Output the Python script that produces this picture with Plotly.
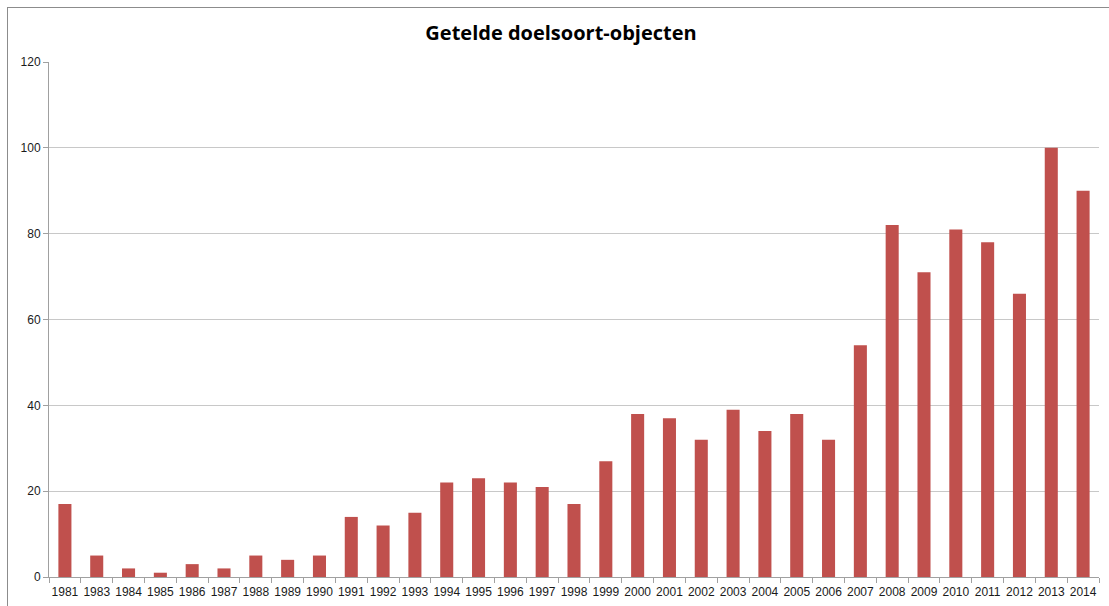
import plotly.graph_objects as go

years = ["1981", "1983", "1984", "1985", "1986", "1987", "1988", "1989", "1990",
         "1991", "1992", "1993", "1994", "1995", "1996", "1997", "1998", "1999",
         "2000", "2001", "2002", "2003", "2004", "2005", "2006", "2007", "2008",
         "2009", "2010", "2011", "2012", "2013", "2014"]
counts = [17, 5, 2, 1, 3, 2, 5, 4, 5,
          14, 12, 15, 22, 23, 22, 21, 17, 27,
          38, 37, 32, 39, 34, 38, 32, 54, 82,
          71, 81, 78, 66, 100, 90]
y_ticks = [0, 20, 40, 60, 80, 100, 120]

W, H = 1109, 606
L, R, T, B = 49, 1099, 62, 577

fig = go.Figure(go.Bar(x=years, y=counts, marker=dict(color="#C0504D", line=dict(width=0)),
                       width=0.41))

def px2paper_x(px):
    return (px - L) / (R - L)

def px2paper_y(py):
    return (B - py) / (B - T)

fig.update_layout(
    width=W, height=H,
    margin=dict(l=L, r=W - R, t=T, b=H - B, pad=0, autoexpand=False),
    paper_bgcolor="white", plot_bgcolor="white",
    font=dict(family="Liberation Sans, Arial", color="#000000", size=12),
    title=dict(text="<b>Getelde doelsoort-objecten</b>", x=561 / W, xanchor="center",
               y=1 - 33 / H, yanchor="middle",
               font=dict(family="Open Sans, Liberation Sans", size=20, color="#000000")),
    bargap=0.59,
    showlegend=False,
    xaxis=dict(type="category", showgrid=False, showline=True, linecolor="#A0A0A0",
               linewidth=1, ticks="outside", ticklen=5, tickcolor="#A0A0A0",
               tickson="boundaries", tickangle=0, automargin=False,
               tickfont=dict(size=12, color="#1a1a1a"), ticklabelstandoff=4),
    yaxis=dict(range=[0, 120], tickvals=y_ticks, showgrid=True, gridcolor="#C8C8C8",
               gridwidth=1, showline=True, linecolor="#A0A0A0", linewidth=1,
               ticks="outside", ticklen=5, tickcolor="#A0A0A0", zeroline=False,
               automargin=False, tickfont=dict(size=12, color="#1a1a1a")),
    shapes=[
        dict(type="line", xref="paper", yref="paper",
             x0=px2paper_x(7), x1=px2paper_x(1115), y0=px2paper_y(7.5), y1=px2paper_y(7.5),
             line=dict(color="#8C8C8C", width=1)),
        dict(type="line", xref="paper", yref="paper",
             x0=px2paper_x(7.5), x1=px2paper_x(7.5), y0=px2paper_y(7), y1=px2paper_y(615),
             line=dict(color="#8C8C8C", width=1)),
    ],
)

fig.write_html("out.html", config={"displayModeBar": False},
               post_script="document.body.style.margin='0';document.body.style.overflow='hidden';")
